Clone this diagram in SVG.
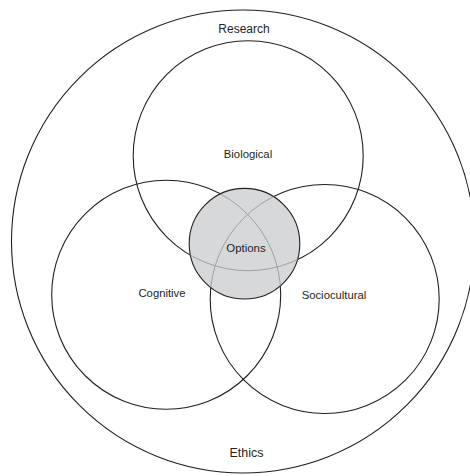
<svg xmlns="http://www.w3.org/2000/svg" width="470" height="476" viewBox="0 0 470 476">
<style>
.c{fill:none;stroke:#231f20;stroke-width:1.1}
.g{fill:none;stroke:#a0a0a0;stroke-width:1}
.t{font-family:"Liberation Sans","Open Sans",Arial,sans-serif;fill:#231f20;text-anchor:middle}
</style>
<defs>
<clipPath id="optClip"><circle cx="244.5" cy="243.7" r="55.3"/></clipPath>
</defs>
<rect width="470" height="476" fill="#fff"/>
<g id="outer">
<circle class="c" cx="243" cy="241.5" r="231.5"/>
<text class="t" x="244" y="33" font-size="12">Research</text>
<text class="t" x="246.5" y="457" font-size="12.5">Ethics</text>
</g>
<g id="biological">
<circle class="c" cx="248.2" cy="155.7" r="115"/>
<text class="t" x="248" y="158" font-size="11.3">Biological</text>
</g>
<g id="cognitive">
<circle class="c" cx="166.2" cy="294.8" r="114.5"/>
<text class="t" x="162" y="297" font-size="11.3">Cognitive</text>
</g>
<g id="sociocultural">
<circle class="c" cx="324.7" cy="299" r="114.5"/>
<text class="t" x="334" y="299" font-size="11.3">Sociocultural</text>
</g>
<g id="options">
<circle cx="244.5" cy="243.7" r="55.3" fill="#d7d8da" stroke="#231f20" stroke-width="1.1"/>
<g clip-path="url(#optClip)">
<circle class="g" cx="248.2" cy="155.7" r="115"/>
<circle class="g" cx="166.2" cy="294.8" r="114.5"/>
<circle class="g" cx="324.7" cy="299" r="114.5"/>
</g>
<text class="t" x="246" y="252" font-size="11.4">Options</text>
</g>
</svg>
